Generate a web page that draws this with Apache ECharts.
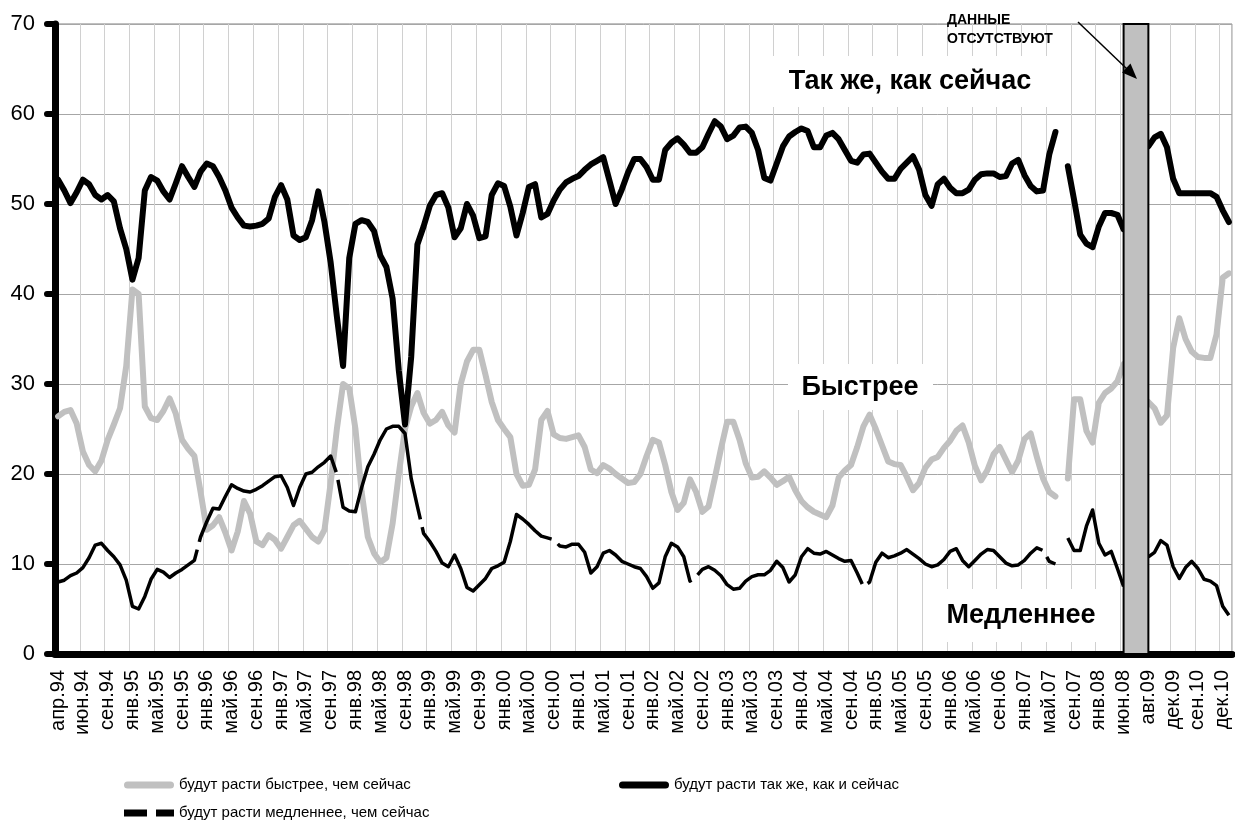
<!DOCTYPE html>
<html>
<head>
<meta charset="utf-8">
<script src="https://cdn.jsdelivr.net/npm/echarts@6/dist/echarts.min.js"></script>
<style>
  html, body { margin: 0; padding: 0; background: #fff; }
  #chart { width: 1235px; height: 822px; }
</style>
</head>
<body>
<div id="chart"></div>
<script>
// labels shown under every 4th point
const tickLabels = [
  'апр.94', 'июн.94', 'сен.94', 'янв.95', 'май.95', 'сен.95', 'янв.96', 'май.96', 'сен.96', 'янв.97',
  'май.97', 'сен.97', 'янв.98', 'май.98', 'сен.98', 'янв.99', 'май.99', 'сен.99', 'янв.00', 'май.00',
  'сен.00', 'янв.01', 'май.01', 'сен.01', 'янв.02', 'май.02', 'сен.02', 'янв.03', 'май.03', 'сен.03',
  'янв.04', 'май.04', 'сен.04', 'янв.05', 'май.05', 'сен.05', 'янв.06', 'май.06', 'сен.06', 'янв.07',
  'май.07', 'сен.07', 'янв.08', 'июн.08', 'авг.09', 'дек.09', 'сен.10', 'дек.10'
];

const seriesNames = [
  'будут расти быстрее, чем сейчас',
  'будут расти так же, как и сейчас',
  'будут расти медленнее, чем сейчас'
];

// gap in the survey
const noDataFrom = 'июн.08';
const noDataTo = 'авг.09';

const fasterValues = [
  26.4, 26.9, 27.1, 25.6, 22.5, 21, 20.3, 21.5, 23.8, 25.5, 27.3, 32, 40.5, 40, 27.5, 26.2, 26, 27, 28.4, 26.7,
  23.8, 22.8, 22, 18, 13.8, 14.3, 15.2, 13.5, 11.5, 13.6, 17, 15.6, 12.5, 12.1, 13.2, 12.7, 11.7, 13, 14.3, 14.8,
  13.9, 13, 12.5, 13.8, 19, 25, 30, 29.5, 25, 18, 13, 11.2, 10.2, 10.7, 14.5, 20, 25, 27.5, 29, 26.8,
  25.6, 26, 26.9, 25.4, 24.6, 30, 32.5, 33.8, 33.8, 31, 28, 26, 25, 24.1, 20, 18.7, 18.8, 20.5, 26, 27,
  24.4, 24, 23.9, 24.1, 24.3, 23, 20.5, 20.1, 21, 20.6, 20, 19.5, 19, 19.1, 20, 22, 23.8, 23.5, 21, 18,
  16, 16.8, 19.4, 18, 15.8, 16.4, 19.5, 22.8, 25.8, 25.8, 23.8, 21.2, 19.6, 19.7, 20.3, 19.6, 18.8, 19.2, 19.7, 18.2,
  17, 16.3, 15.8, 15.5, 15.2, 16.5, 19.6, 20.4, 21, 23, 25.3, 26.6, 25, 23.2, 21.4, 21.1, 21, 19.7, 18.2, 19,
  20.7, 21.6, 21.9, 22.9, 23.7, 24.8, 25.4, 23.5, 20.9, 19.3, 20.4, 22.2, 23, 21.6, 20.2, 21.5, 23.9, 24.5, 21.9, 19.5,
  18, 17.5, null, 19.5, 28.3, 28.3, 24.8, 23.5, 27.9, 29, 29.5, 30.3, 32.2, null, null, null, 28, 27.3, 25.7, 26.5,
  34, 37.3, 35, 33.6, 33, 32.9, 32.9, 35.5, 41.8, 42.3
];

const sameValues = [
  52.7, 51.5, 50.1, 51.3, 52.7, 52.2, 51, 50.5, 51, 50.3, 47.3, 45, 41.6, 44, 51.5, 53, 52.6, 51.4, 50.5, 52.3,
  54.2, 53, 51.9, 53.6, 54.5, 54.2, 53, 51.5, 49.6, 48.5, 47.6, 47.5, 47.6, 47.8, 48.4, 50.8, 52.1, 50.5, 46.5, 46,
  46.3, 48.2, 51.4, 48, 43.5, 37.5, 32, 44, 47.8, 48.2, 48, 47, 44.3, 43, 39.5, 31.5, 25.5, 33, 45.5, 47.5,
  49.8, 51, 51.2, 49.6, 46.3, 47.3, 50, 48.7, 46.2, 46.4, 51, 52.3, 52, 49.7, 46.5, 49, 51.9, 52.2, 48.5, 48.9,
  50.4, 51.6, 52.4, 52.8, 53.1, 53.8, 54.4, 54.8, 55.2, 52.6, 50, 51.6, 53.5, 55, 55, 54.1, 52.7, 52.7, 56, 56.8,
  57.3, 56.6, 55.7, 55.7, 56.3, 57.8, 59.2, 58.6, 57.2, 57.6, 58.5, 58.6, 57.9, 56, 52.9, 52.6, 54.5, 56.4, 57.5, 58,
  58.4, 58.1, 56.3, 56.3, 57.6, 57.9, 57.2, 56, 54.8, 54.6, 55.5, 55.6, 54.6, 53.6, 52.8, 52.8, 53.9, 54.6, 55.3, 53.8,
  51, 49.8, 52.2, 52.8, 51.8, 51.2, 51.2, 51.6, 52.7, 53.3, 53.4, 53.4, 53, 53.1, 54.5, 54.9, 53.2, 52, 51.4, 51.5,
  55.5, 58, null, 54.2, 50.5, 46.6, 45.6, 45.2, 47.5, 49, 49, 48.8, 47.2, null, null, null, 56.4, 57.4, 57.8, 56.3,
  52.8, 51.2, 51.2, 51.2, 51.2, 51.2, 51.2, 50.8, 49.3, 48
];

const slowerValues = [
  8, 8.2, 8.7, 9, 9.6, 10.7, 12.1, 12.3, 11.5, 10.8, 9.9, 8.2, 5.3, 5, 6.4, 8.3, 9.4, 9.1, 8.5, 9,
  9.4, 9.9, 10.4, 13, 14.7, 16.2, 16.1, 17.5, 18.8, 18.4, 18.1, 18, 18.3, 18.7, 19.2, 19.7, 19.8, 18.5, 16.5, 18.5,
  20, 20.2, 20.8, 21.3, 22, 20, 16.3, 15.9, 15.8, 18.5, 20.8, 22.2, 23.8, 25, 25.3, 25.3, 24.5, 19.5, 16.4, 13.4,
  12.5, 11.4, 10.1, 9.7, 11, 9.5, 7.4, 7, 7.7, 8.4, 9.5, 9.8, 10.2, 12.5, 15.5, 15, 14.4, 13.7, 13.1, 12.9,
  12.7, 12, 11.9, 12.2, 12.2, 11.3, 9, 9.7, 11.2, 11.5, 11, 10.3, 10, 9.7, 9.5, 8.6, 7.3, 7.9, 10.8, 12.3,
  11.9, 10.8, 8.1, 8.6, 9.4, 9.7, 9.3, 8.7, 7.7, 7.2, 7.3, 8.1, 8.6, 8.8, 8.8, 9.3, 10.3, 9.6, 8, 8.8,
  10.8, 11.7, 11.2, 11.1, 11.4, 11, 10.6, 10.3, 10.4, 9, 7.5, 8, 10.2, 11.2, 10.7, 10.9, 11.2, 11.6, 11.1, 10.6,
  10, 9.7, 9.9, 10.5, 11.4, 11.7, 10.4, 9.7, 10.4, 11.1, 11.6, 11.5, 10.8, 10.1, 9.8, 9.9, 10.4, 11.2, 11.8, 11.5,
  10.3, 10, null, 12.9, 11.5, 11.5, 14.2, 16, 12.3, 11, 11.4, 9.5, 7.5, null, null, null, 10.8, 11.3, 12.6, 12.1,
  9.7, 8.4, 9.6, 10.3, 9.5, 8.3, 8.1, 7.6, 5.3, 4.3
];

// one category per point, a label on every 4th
const categories = fasterValues.map((v, i) => (i % 4 === 0 ? tickLabels[i / 4] : ''));

const FONT = '"Liberation Sans", Arial, sans-serif';
const roundBar = 'path://M3.5,0H46.5A3.5,3.5,0,0,1,46.5,7H3.5A3.5,3.5,0,0,1,3.5,0Z';
const dashBar = 'path://M0,0H23V7H0ZM32,0H50V7H32Z';

const chart = echarts.init(document.getElementById('chart'));

function legendAt(name, icon, left, top) {
  return {
    data: [{ name: name, icon: icon }],
    left: left,
    top: top,
    itemWidth: 50,
    itemHeight: 7,
    itemStyle: { borderWidth: 0 },
    selectedMode: false,
    textStyle: { fontFamily: FONT, fontSize: 15, color: '#000', lineHeight: 18 }
  };
}

const option = {
  animation: false,
  backgroundColor: '#fff',
  grid: {
    left: 55, right: 3, top: 24, bottom: 168,
    show: true, borderColor: '#808080', borderWidth: 1,
    outerBoundsMode: 'none'
  },
  legend: [
    legendAt(seriesNames[0], roundBar, 119, 771),
    legendAt(seriesNames[1], roundBar, 614, 771),
    legendAt(seriesNames[2], dashBar, 119, 799)
  ],
  xAxis: {
    type: 'category',
    data: categories,
    boundaryGap: true,
    axisLine: { lineStyle: { color: '#000', width: 7, cap: 'round' } },
    axisTick: { interval: 3, length: 7, lineStyle: { color: '#000', width: 6, cap: 'round' } },
    axisLabel: { interval: 3, rotate: 90, margin: 16, fontFamily: FONT, fontSize: 20, color: '#000' },
    splitLine: { show: true, interval: 3, lineStyle: { color: '#d0d0d0', width: 1 } }
  },
  yAxis: {
    type: 'value',
    min: 0, max: 70, interval: 10,
    axisLine: { show: true, lineStyle: { color: '#000', width: 7, cap: 'round' } },
    axisTick: { show: true, length: 8, lineStyle: { color: '#000', width: 6, cap: 'round' } },
    axisLabel: { margin: 20, fontFamily: FONT, fontSize: 22, color: '#000' },
    splitLine: { lineStyle: { color: '#a6a6a6', width: 1 } }
  },
  series: [
    {
      name: seriesNames[0], type: 'line', data: fasterValues, symbol: 'none', z: 2,
      color: '#c0c0c0',
      lineStyle: { color: '#c0c0c0', width: 6, cap: 'round', join: 'round' }
    },
    {
      name: seriesNames[1], type: 'line', data: sameValues, symbol: 'none', z: 3,
      color: '#000',
      lineStyle: { color: '#000', width: 6, cap: 'round', join: 'round' }
    },
    {
      name: seriesNames[2], type: 'line', data: slowerValues, symbol: 'none', z: 4,
      color: '#000',
      // long dashes: the original looks nearly solid with a few breaks
      lineStyle: { color: '#000', width: 3.5, type: [240, 8], join: 'round' },
      markArea: {
        silent: true,
        z: 10,
        label: { show: false },
        itemStyle: { color: '#c0c0c0', borderColor: '#000', borderWidth: 2 },
        data: [[{ xAxis: noDataFrom, yAxis: 70 }, { xAxis: noDataTo, yAxis: 0 }]]
      }
    }
  ],
  graphic: [
    { type: 'rect', z: 50, shape: { x: 773, y: 56, width: 274, height: 51 }, style: { fill: '#fff' } },
    { type: 'text', z: 51, style: { text: 'Так же, как сейчас', x: 910, y: 82, align: 'center', verticalAlign: 'middle', font: 'bold 27px ' + FONT, fill: '#000' } },
    { type: 'rect', z: 50, shape: { x: 788, y: 364, width: 145, height: 46 }, style: { fill: '#fff' } },
    { type: 'text', z: 51, style: { text: 'Быстрее', x: 860, y: 388, align: 'center', verticalAlign: 'middle', font: 'bold 27px ' + FONT, fill: '#000' } },
    { type: 'rect', z: 50, shape: { x: 933, y: 589, width: 180, height: 53 }, style: { fill: '#fff' } },
    { type: 'text', z: 51, style: { text: 'Медленнее', x: 1021, y: 616, align: 'center', verticalAlign: 'middle', font: 'bold 27px ' + FONT, fill: '#000' } },
    { type: 'text', z: 51, style: { text: 'ДАННЫЕ', x: 947, y: 20, verticalAlign: 'middle', font: 'bold 14px ' + FONT, fill: '#000' } },
    { type: 'text', z: 51, style: { text: 'ОТСУТСТВУЮТ', x: 947, y: 39, verticalAlign: 'middle', font: 'bold 14px ' + FONT, fill: '#000' } },
    { type: 'line', z: 51, shape: { x1: 1078, y1: 22, x2: 1127, y2: 69 }, style: { stroke: '#000', lineWidth: 1.5 } },
    { type: 'polygon', z: 51, shape: { points: [[1137, 79], [1122, 72.5], [1130.5, 63.5]] }, style: { fill: '#000' } }
  ]
};

chart.setOption(option);
window.addEventListener('resize', () => chart.resize());
</script>
</body>
</html>
